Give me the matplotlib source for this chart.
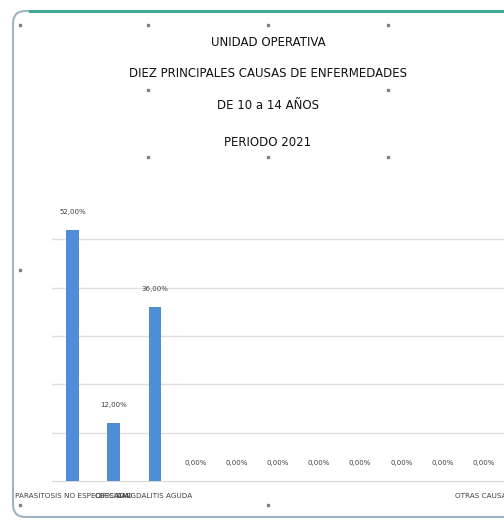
import matplotlib.pyplot as plt
from matplotlib.patches import FancyBboxPatch
from matplotlib.lines import Line2D

plt.rcParams['font.family'] = ['Liberation Sans Narrow', 'DejaVu Sans']

titulo = ["UNIDAD OPERATIVA",
          "DIEZ PRINCIPALES CAUSAS DE ENFERMEDADES",
          "DE 10 a 14 AÑOS",
          "PERIODO 2021"]
causas = ["PARASITOSIS NO ESPECIFICADA", "OBESIDAD", "AMIGDALITIS AGUDA",
          "", "", "", "", "", "", "", "OTRAS CAUSAS"]
porcentajes = [0.52, 0.12, 0.36, 0, 0, 0, 0, 0, 0, 0, 0]

W, H = 504, 520
fig = plt.figure(figsize=(5.04, 5.2), dpi=100)

# chart border (cropped excel screenshot)
box = FancyBboxPatch((13 / W, 3 / H), 1.2, (509 - 3) / H,
                     boxstyle="round,pad=0,rounding_size=0.025",
                     transform=fig.transFigure, fill=False,
                     edgecolor='#9fb3c2', linewidth=1.5)
fig.add_artist(box)
fig.add_artist(Line2D([30 / W, 1], [1 - 11 / H, 1 - 11 / H],
                      color='#3fa896', linewidth=2.2))

ax = fig.add_axes([52 / W, 1 - 481 / H, (504 - 52) / W, (481 - 191) / H])
x = list(range(len(causas)))
ax.bar(x, porcentajes, width=0.3, color='#4f8ed6', zorder=3)
ax.set_xlim(-0.5, len(causas) - 0.5)
ax.set_ylim(0, 0.6)
ax.set_yticks([0.1, 0.2, 0.3, 0.4, 0.5])
ax.grid(axis='y', color='#e0e0e0', linewidth=1)
ax.tick_params(axis='y', left=False, labelleft=False)
ax.tick_params(axis='x', length=0, pad=9)
ax.set_xticks(x)
ax.set_xticklabels(causas, fontsize=5.2, color='#404040')
for s in ['top', 'right', 'left']:
    ax.spines[s].set_visible(False)
ax.spines['bottom'].set_color('#d9d9d9')

for xi, v in zip(x, porcentajes):
    ax.annotate(f"{v * 100:.2f}%".replace('.', ','), (xi, v),
                xytext=(0, 13), textcoords='offset points',
                ha='center', va='center', fontsize=5, color='#404040')

ys = [42, 74, 106, 143]
for t, y in zip(titulo, ys):
    fig.text(268 / W, 1 - y / H, t, ha='center', va='center',
             fontsize=8.5, color='#111111')

# selection handles
handles = [(148, 25), (268, 25), (388, 25), (148, 90), (388, 90),
           (148, 157), (268, 157), (388, 157),
           (20, 25), (20, 270), (20, 505), (268, 505)]
for hx, hy in handles:
    fig.add_artist(Line2D([hx / W], [1 - hy / H], marker='s', markersize=1.8,
                          color='#808080', linestyle='none'))

fig.savefig('out.png', dpi=100)
